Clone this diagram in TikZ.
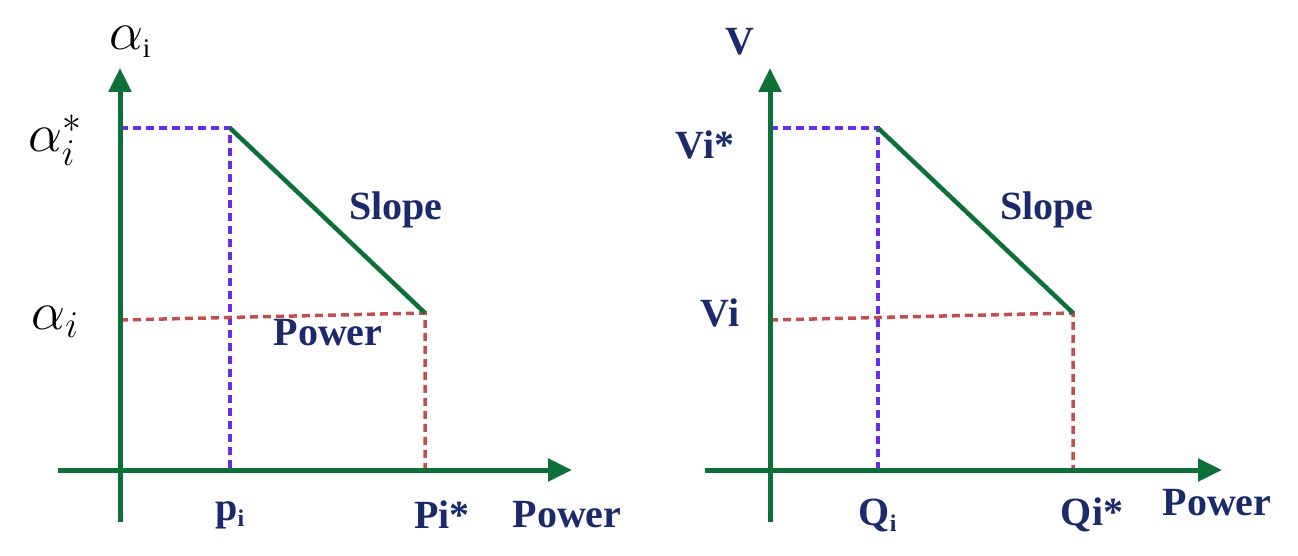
\RequirePackage{fix-cm}
\documentclass[tikz,border=0pt]{standalone}
\usepackage{fontspec}
\setmainfont{Liberation Serif}
\usetikzlibrary{arrows.meta,positioning}
\definecolor{axisgreen}{HTML}{0E7039}
\definecolor{navy}{HTML}{1B2A6B}
\definecolor{violet}{HTML}{6A2BF0}
\definecolor{brick}{HTML}{C0504D}
\tikzset{
  axis/.style={axisgreen,line width=5pt,-{Triangle[length=24pt,width=22pt]}},
  droop/.style={axisgreen,line width=4.5pt},
  lim/.style={violet,line width=3.5pt,dash pattern=on 8pt off 5pt},
  op/.style={brick,line width=3.5pt,dash pattern=on 8pt off 5pt},
  lbl/.style={navy,font=\fontsize{40}{40}\selectfont\bfseries},
  sym/.style={font=\fontsize{54}{54}\selectfont}
}
\begin{document}
\begin{tikzpicture}[x=1pt,y=-1pt]
\useasboundingbox (0,0) rectangle (1298,556);
% left plot
\coordinate (ya1) at (120,522);
\coordinate (yt1) at (120,68);
\coordinate (xa1) at (58,470);
\coordinate (xt1) at (572,470);
\coordinate (a1) at (120,128);
\coordinate (b1) at (230,128);
\coordinate (c1) at (230,470);
\coordinate (d1) at (120,320);
\coordinate (e1) at (425,313);
\coordinate (f1) at (425,470);
\draw[lim] (a1) -- (b1) -- (c1);
\draw[op] (d1) -- (e1) -- (f1);
\draw[droop] (b1) -- (e1);
\draw[axis] (ya1) -- (yt1);
\draw[axis] (xa1) -- (xt1);
\node[sym] (alab) at (130,42) {$\alpha_{\scriptscriptstyle\mathrm{i}}$};
\node[sym] (astar) at (55,140) {$\alpha_i^*$};
\node[sym] (aop) at (55,322) {$\alpha_i$};
\node[lbl] (slope1) at (396,210) {Slope};
\node[lbl] (pow1) at (328,333) {Power};
\node[lbl] (p1) at (230,515) {p\textsubscript{\fontsize{24}{24}\selectfont i}};
\node[lbl] (pstar) at (442,515) {Pi*};
\node[lbl] (px1) at (567,515) {Power};
% right plot
\coordinate (ya2) at (770,522);
\coordinate (yt2) at (770,68);
\coordinate (xa2) at (705,470);
\coordinate (xt2) at (1222,470);
\coordinate (a2) at (770,128);
\coordinate (b2) at (878,128);
\coordinate (c2) at (878,470);
\coordinate (d2) at (770,320);
\coordinate (e2) at (1073,313);
\coordinate (f2) at (1073,470);
\draw[lim] (a2) -- (b2) -- (c2);
\draw[op] (d2) -- (e2) -- (f2);
\draw[droop] (b2) -- (e2);
\draw[axis] (ya2) -- (yt2);
\draw[axis] (xa2) -- (xt2);
\node[lbl] (vlab) at (740,42) {V};
\node[lbl] (vstar) at (705,145) {Vi*};
\node[lbl] (vop) at (720,313) {Vi};
\node[lbl] (slope2) at (1047,210) {Slope};
\node[lbl] (q1) at (878,515) {Q\textsubscript{\fontsize{24}{24}\selectfont i}};
\node[lbl] (qstar) at (1092,515) {Qi*};
\node[lbl] (px2) at (1217,503) {Power};
\end{tikzpicture}
\end{document}
